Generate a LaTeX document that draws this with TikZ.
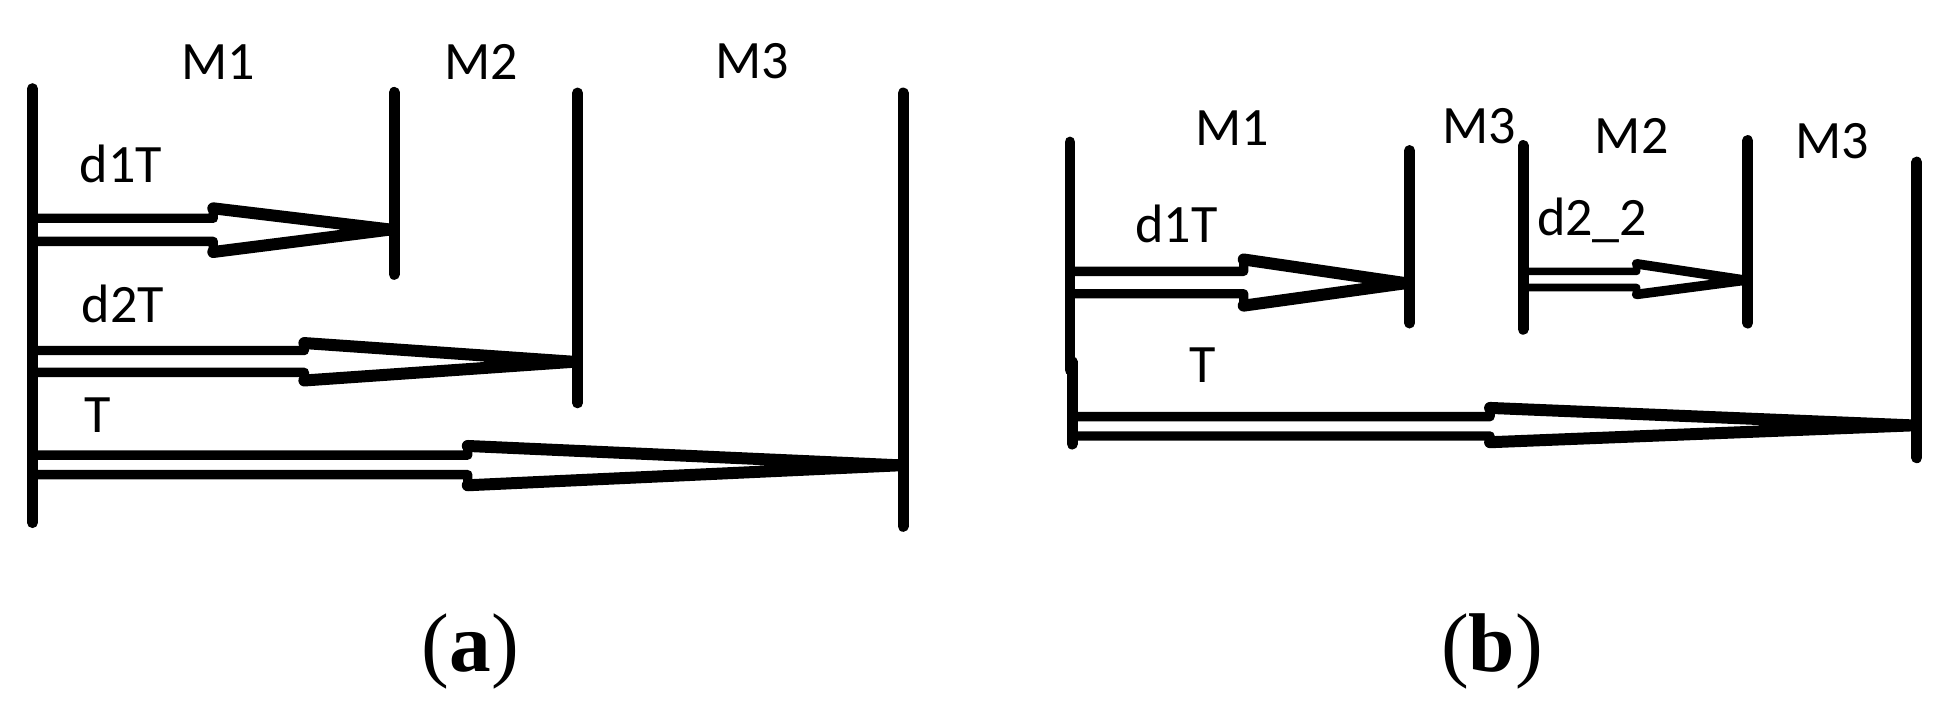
\documentclass[tikz,border=0pt]{standalone}
\usepackage{fontspec}
\setmainfont{Carlito}
\newfontfamily\capfont{Liberation Serif}
% #1 style, #2 x start, #3 x head start, #4 x tip, #5 y tip,
% #6 y shaft top, #7 y shaft bottom, #8 y head top, #9 y head bottom
\newcommand{\blockarrow}[9]{%
  \draw[arrowline,#1] (#2,#6) -- (#3,#6) -- (#3,#8) -- (#4,#5) -- (#3,#9) -- (#3,#7) -- (#2,#7);
  \draw[headline,#1,line width=\headlw] (#3,#8) -- (#4,#5) -- (#3,#9);}
\newcommand{\headlw}{8.2pt}
\begin{document}
\begin{tikzpicture}[x=0.03cm,y=-0.03cm,
  bar/.style={line width=7.4pt,line cap=round},
  arrowline/.style={line width=6.4pt,line join=round,fill=white},
  headline/.style={line join=round,line cap=round},
  thinarrow/.style={line width=5.2pt},
  lbl/.style={anchor=base,inner sep=0pt,font=\fontsize{37}{40}\selectfont},
  caplbl/.style={anchor=base,inner sep=0pt,font=\capfont\fontsize{57}{60}\selectfont}]
\useasboundingbox[fill=white] (0,0) rectangle (1564,574.8);

% ---------- panel (a) ----------
\coordinate (a0t) at (26,71);    \coordinate (a0b) at (26,419);
\coordinate (a1t) at (316,74);   \coordinate (a1b) at (316,220);
\coordinate (a2t) at (463,74.5); \coordinate (a2b) at (463,323);
\coordinate (a3t) at (724,74.5); \coordinate (a3b) at (724,422);

\blockarrow{}{26}{171}{313}{184}{175}{193.5}{167}{202}
\blockarrow{}{26}{244}{460}{290}{281}{298.5}{275}{305}
\blockarrow{}{26}{375}{721}{373}{364.8}{380.5}{357.5}{389}

\draw[bar] (a0t) -- (a0b);
\draw[bar] (a1t) -- (a1b);
\draw[bar] (a2t) -- (a2b);
\draw[bar] (a3t) -- (a3b);

\node[lbl] (aM1) at (175,64) {M1};
\node[lbl] (aM2) at (386,64) {M2};
\node[lbl] (aM3) at (603,63) {M3};
\node[lbl] (ad1) at (97,146) {d1T};
\node[lbl] (ad2) at (98.5,258.7) {d2T};
\node[lbl] (aT)  at (78.5,346.8) {T};
\node[caplbl] (capa) at (377,538.6) {(\textbf{a})};

% ---------- panel (b) ----------
\coordinate (b0t) at (857.7,113.8); \coordinate (b0m) at (857.7,296.6);
\coordinate (b0n) at (859.5,290);   \coordinate (b0b) at (859.5,356);
\coordinate (b1t) at (1130,120.6);  \coordinate (b1b) at (1130,259);
\coordinate (b2t) at (1221,116.6);  \coordinate (b2b) at (1221,264);
\coordinate (b3t) at (1401,112.6);  \coordinate (b3b) at (1401,259);
\coordinate (b4t) at (1536.5,129.9); \coordinate (b4b) at (1536.5,367);

\blockarrow{}{858}{997}{1127}{227}{217.5}{235.5}{208}{245}
\renewcommand{\headlw}{6.6pt}
\blockarrow{thinarrow}{1221}{1312}{1399}{224.6}{217.5}{230.5}{211.5}{236}
\renewcommand{\headlw}{8.2pt}
\blockarrow{}{859.5}{1194.5}{1533}{341}{334}{349.5}{327}{354.5}

\draw[bar] (b0t) -- (b0m);
\draw[bar] (b0n) -- (b0b);
\draw[bar] (b1t) -- (b1b);
\draw[bar] (b2t) -- (b2b);
\draw[bar] (b3t) -- (b3b);
\draw[bar] (b4t) -- (b4b);

\node[lbl] (bM1)  at (987.6,116.3) {M1};
\node[lbl] (bM3a) at (1186,114.7) {M3};
\node[lbl] (bM2)  at (1308,122.7) {M2};
\node[lbl] (bM3b) at (1469,126.9) {M3};
\node[lbl] (bd1)  at (943,194) {d1T};
\node[lbl,anchor=base west] (bd2) at (1232,188.5) {d2\_2};
\node[lbl] (bT)   at (964.5,307) {T};
\node[caplbl] (capb) at (1196,538.6) {(\textbf{b})};
\end{tikzpicture}
\end{document}
